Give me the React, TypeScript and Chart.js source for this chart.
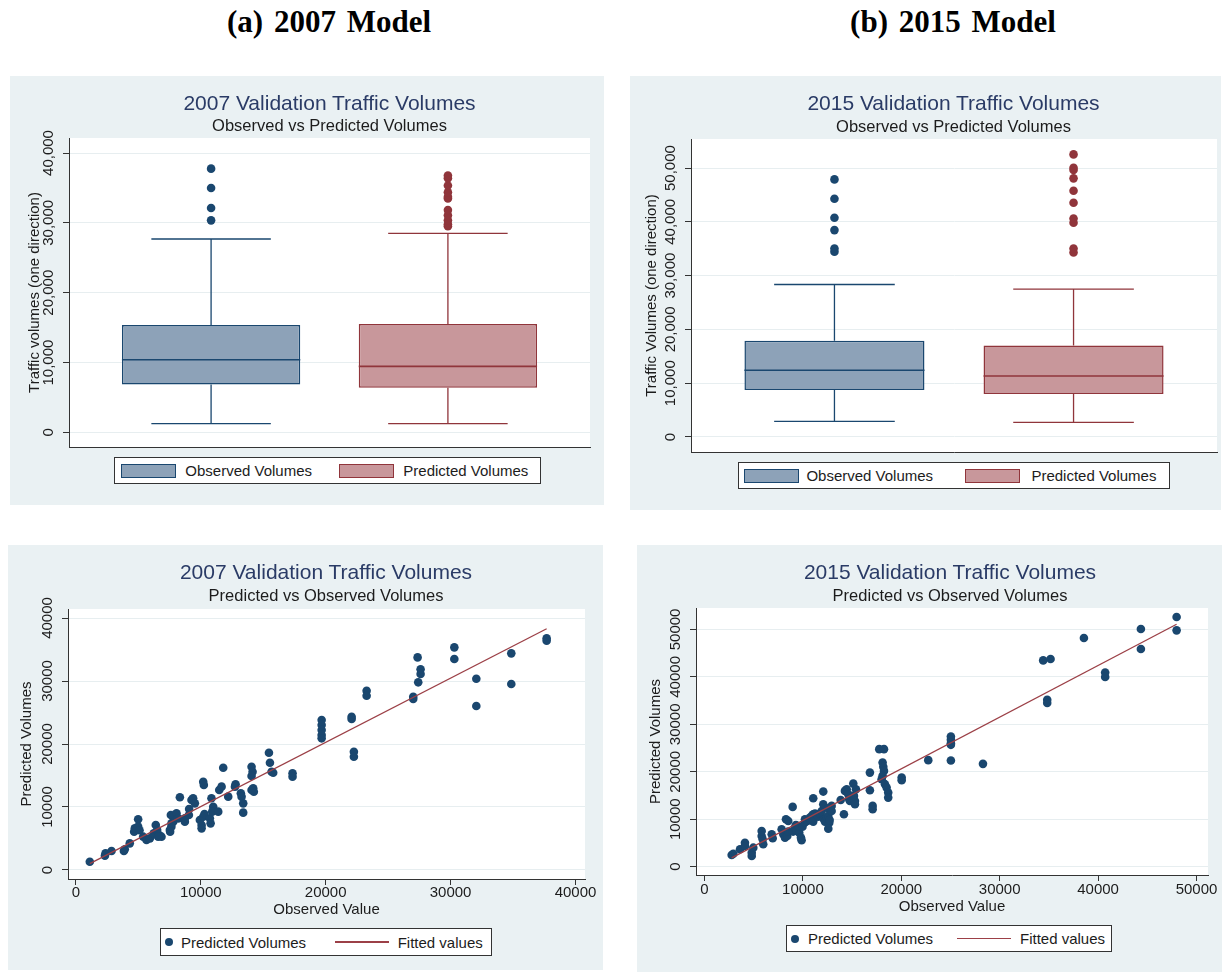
import React, { useEffect, useRef } from "react";
import { Chart, registerables } from "chart.js";

Chart.register(...registerables);

// ---------------- data ----------------
const boxGroups = ["Observed Volumes", "Predicted Volumes"];
const OBS = 0;
const PRED = 1;

// 2007 box plot (observed, predicted)
const box2007Low = [1250, 1250];
const box2007Q1 = [6870, 6400];
const box2007Median = [10400, 9450];
const box2007Q3 = [15370, 15510];
const box2007High = [27690, 28490];
const box2007OutObserved = [30360, 32120, 34990, 37760];
const box2007OutPredicted = [29520, 29790, 30360, 31100, 31850, 33490, 33750, 34390, 35340, 36390, 36770];

// 2015 box plot (observed, predicted)
const box2015Low = [2920, 2730];
const box2015Q1 = [8750, 8000];
const box2015Median = [12410, 11350];
const box2015Q3 = [17870, 17000];
const box2015High = [28350, 27480];
const box2015OutObserved = [34430, 35050, 38460, 40760, 44290, 47890];
const box2015OutPredicted = [34300, 35050, 39830, 40630, 43550, 45780, 48080, 49630, 50060, 52540];

// tick labels
const yTicksBox2007 = [0, 10000, 20000, 30000, 40000];
const yTicksBox2015 = [0, 10000, 20000, 30000, 40000, 50000];
const xTicksScatter2007 = [0, 10000, 20000, 30000, 40000];
const yTicksScatter2007 = [0, 10000, 20000, 30000, 40000];
const xTicksScatter2015 = [0, 10000, 20000, 30000, 40000, 50000];
const yTicksScatter2015 = [0, 10000, 20000, 30000, 40000, 50000];

// 2007 scatter: observed (x) vs predicted (y)
const obs2007 = [
  1120, 2330, 2380, 2860, 3850, 3920, 4320, 4670, 4720, 4990, 4990, 5100, 5390, 5660, 5930, 6240,
  6400, 6510, 6670, 6860, 6590, 7530, 7550, 7650, 7610, 7800, 7660, 8060, 8190, 8330, 8730, 8730,
  9050, 9070, 9260, 9390, 9530, 9930, 10070, 10070, 10200, 10300, 10200, 10250, 10730, 10790, 10860,
  11000, 10920, 11400, 11480, 11670, 11800, 12200, 12790, 12740, 13210, 13270, 13400, 13400, 14070,
  14150, 14070, 14200, 14250, 14070, 15460, 15540, 15670, 15800, 17350, 17350, 19680, 19680, 19680,
  19680, 19680, 22080, 22080, 22260, 22260, 23280, 23280, 27010, 27010, 27360, 27410, 27600, 27600,
  30300, 30300, 32060, 32060, 34860, 34860, 37690, 37690,
];
const pred2007 = [
  1320, 2270, 2650, 3020, 3020, 3280, 4230, 6080, 6600, 8050, 6880, 6300, 5290, 4760, 5020, 5820,
  7140, 6350, 5550, 5290, 5290, 6350, 6080, 6880, 8730, 7660, 7400, 9000, 8200, 11540, 7660, 8200,
  8730, 9680, 11110, 11380, 10580, 7940, 7140, 6610, 8460, 8890, 14010, 13490, 8200, 7400, 11380,
  10050, 9260, 9260, 12700, 13230, 16230, 11640, 13600, 13230, 12170, 11640, 10580, 9100, 16390,
  15600, 14920, 12960, 12430, 12700, 18620, 17030, 15600, 15440, 15340, 14810, 23800, 23010, 22220,
  21420, 20900, 24330, 23960, 18770, 17980, 28450, 27660, 27500, 27140, 33750, 29790, 31850, 31100,
  35340, 33490, 30360, 26030, 34390, 29520, 36770, 36390,
];
const fit2007X = [1120, 37690];
const fit2007Y = [1000, 38300];

// 2015 scatter: observed (x) vs predicted (y)
const obs2015 = [
  2760, 2930, 3610, 4110, 4110, 4800, 4800, 4960, 5810, 5810, 5910, 5970, 6830, 6930, 7840, 8010,
  8180, 8410, 8280, 8510, 8500, 8960, 9000, 9190, 9290, 9370, 9630, 9530, 9870, 9800, 9960, 10200,
  10210, 10450, 10720, 10750, 10890, 11050, 11230, 11050, 11050, 11540, 11730, 11910, 12070, 12140,
  12240, 12420, 12580, 12680, 12720, 12580, 12070, 12580, 12920, 12920, 13840, 14170, 14270, 14450,
  14610, 14710, 14780, 15120, 15190, 15290, 15290, 15390, 16810, 16810, 17090, 17090, 17760, 18240,
  18100, 18170, 18240, 18100, 18000, 18340, 18510, 18670, 18670, 20040, 20040, 22740, 25040, 25040,
  25040, 25040, 25040, 28300, 34420, 35170, 34830, 34830, 38560, 40720, 40720, 44350, 44350, 47980,
  47980,
];
const pred2015 = [
  2470, 2740, 3670, 5060, 4370, 2260, 2950, 4010, 7530, 6480, 5780, 4730, 6840, 5990, 7890, 6840,
  6120, 6480, 10000, 9640, 7380, 12600, 7400, 8230, 8790, 7530, 7170, 8590, 5570, 6120, 8440, 9300,
  10000, 9640, 10340, 9850, 10700, 11060, 11180, 14430, 9500, 10550, 11180, 11750, 13170, 10000,
  9500, 10340, 10700, 9280, 9850, 8020, 15830, 12320, 12810, 11750, 14070, 11060, 15970, 16330,
  15270, 14220, 13860, 17510, 14920, 13860, 13170, 16330, 19830, 16120, 12810, 12110, 24770, 24770,
  21940, 21040, 20190, 19140, 18440, 17390, 16670, 15610, 14560, 18780, 18230, 22450, 27430, 26730,
  26030, 25680, 22370, 21670, 43470, 43760, 35170, 34480, 48190, 40930, 39960, 50090, 45870, 52620,
  49800,
];
const fit2015X = [2760, 47980];
const fit2015Y = [1850, 51100];

const scatterSeries = ["Predicted Volumes", "Fitted values"];

// ---------------- styles ----------------
const SANS = "'Liberation Sans', Arial, Helvetica, sans-serif";
const SERIF = "'Liberation Serif', 'Times New Roman', serif";
const PANEL_BG = "#eaf1f3";
const GRID = "#e7eef0";
const AXIS = "#333333";
const TEXT = "#1c1c1c";
const TITLE = "#2a3b66";
const OBS_LINE = "#1a476f";
const OBS_FILL = "#8da2b8";
const PRED_LINE = "#90353b";
const PRED_FILL = "#c8979b";
const FIT = "#9c4047";

type Box = { left: number; top: number; width: number; height: number };
type Area = { l: number; t: number; r: number; b: number };
type PanelLayout = { canvas: Box; area: Area; xScaleH: number; yTitlePad: number; tickPad: number };

const layoutA: PanelLayout = {
  canvas: { left: 10, top: 76, width: 594, height: 429 },
  area: { l: 59, t: 62, r: 580, b: 371 },
  xScaleH: 0,
  yTitlePad: 15.5,
  tickPad: 0,
};
const layoutB: PanelLayout = {
  canvas: { left: 630, top: 76, width: 591, height: 434 },
  area: { l: 61, t: 63, r: 587, b: 376 },
  xScaleH: 0,
  yTitlePad: 12.4,
  tickPad: 0,
};
const layoutC: PanelLayout = {
  canvas: { left: 8, top: 545, width: 595, height: 425 },
  area: { l: 60, t: 64, r: 577, b: 334 },
  xScaleH: 40,
  yTitlePad: 9.5,
  tickPad: 0,
};
const layoutD: PanelLayout = {
  canvas: { left: 637, top: 545, width: 585, height: 427 },
  area: { l: 59, t: 63, r: 571, b: 330 },
  xScaleH: 41,
  yTitlePad: 9.7,
  tickPad: 1.5,
};

// ---------------- plugins ----------------
function panelBgPlugin() {
  return {
    id: "panelBg",
    beforeDraw(chart: any) {
      const { ctx, width, height, chartArea } = chart;
      ctx.save();
      ctx.fillStyle = PANEL_BG;
      ctx.fillRect(0, 0, width, height);
      ctx.fillStyle = "#ffffff";
      ctx.fillRect(chartArea.left, chartArea.top, chartArea.right - chartArea.left, chartArea.bottom - chartArea.top);
      ctx.restore();
    },
  };
}

function rotatedYTicksPlugin(fmt: (v: number) => string) {
  return {
    id: "rotatedYTicks",
    afterDraw(chart: any) {
      const s = chart.scales.y;
      const ctx = chart.ctx;
      ctx.save();
      ctx.fillStyle = TEXT;
      ctx.font = `15px ${SANS}`;
      ctx.textAlign = "center";
      ctx.textBaseline = "middle";
      for (const t of s.ticks) {
        const y = s.getPixelForValue(t.value);
        ctx.save();
        ctx.translate(chart.chartArea.left - 20, y);
        ctx.rotate(-Math.PI / 2);
        ctx.fillText(fmt(t.value), 0, 0);
        ctx.restore();
      }
      ctx.restore();
    },
  };
}

function whiskerPlugin(low: number[], med: number[], q1: number[], q3: number[], high: number[], colors: string[]) {
  return {
    id: "boxWhiskers",
    afterDatasetsDraw(chart: any) {
      const meta = chart.getDatasetMeta(0);
      const ys = chart.scales.y;
      const ctx = chart.ctx;
      meta.data.forEach((bar: any, i: number) => {
        const { x, width } = bar.getProps(["x", "width"], true);
        const cap = width * 0.335;
        const yLo = ys.getPixelForValue(low[i]);
        const yHi = ys.getPixelForValue(high[i]);
        const yQ1 = ys.getPixelForValue(q1[i]);
        const yQ3 = ys.getPixelForValue(q3[i]);
        const yMed = ys.getPixelForValue(med[i]);
        ctx.save();
        ctx.strokeStyle = colors[i];
        ctx.lineWidth = 1.3;
        ctx.beginPath();
        ctx.moveTo(x, yQ3);
        ctx.lineTo(x, yHi);
        ctx.moveTo(x - cap, yHi);
        ctx.lineTo(x + cap, yHi);
        ctx.moveTo(x, yQ1);
        ctx.lineTo(x, yLo);
        ctx.moveTo(x - cap, yLo);
        ctx.lineTo(x + cap, yLo);
        ctx.stroke();
        ctx.lineWidth = 1.6;
        ctx.beginPath();
        ctx.moveTo(x - width / 2, yMed);
        ctx.lineTo(x + width / 2, yMed);
        ctx.stroke();
        ctx.restore();
      });
    },
  };
}

// ---------------- config builders ----------------
function paddingOf(p: PanelLayout) {
  return {
    left: 0,
    top: p.area.t,
    right: p.canvas.width - p.area.r,
    bottom: p.canvas.height - p.area.b - p.xScaleH,
  };
}

function yScale(p: PanelLayout, min: number, max: number, ticks: number[], title: string) {
  return {
    type: "linear",
    position: "left",
    min,
    max,
    afterBuildTicks: (s: any) => {
      s.ticks = ticks.map((v) => ({ value: v }));
    },
    afterFit: (s: any) => {
      s.width = p.area.l;
    },
    ticks: { display: false },
    grid: {
      display: true,
      drawOnChartArea: true,
      color: GRID,
      lineWidth: 1,
      drawTicks: true,
      tickLength: 6,
      tickColor: AXIS,
      tickWidth: 1,
    },
    border: { display: true, color: AXIS, width: 1 },
    title: {
      display: true,
      text: title,
      color: TEXT,
      font: { family: SANS, size: 15 },
      padding: { top: p.yTitlePad, bottom: 0 },
    },
  };
}

function baseOptions(p: PanelLayout, scales: any) {
  return {
    responsive: false,
    maintainAspectRatio: false,
    animation: false,
    devicePixelRatio: 1,
    events: [],
    layout: { padding: paddingOf(p), autoPadding: false },
    plugins: {
      legend: { display: false },
      title: { display: false },
      tooltip: { enabled: false },
    },
    scales,
  };
}

function boxConfig(
  p: PanelLayout,
  yMin: number,
  yMax: number,
  yTicks: number[],
  yTitle: string,
  low: number[],
  q1: number[],
  med: number[],
  q3: number[],
  high: number[],
  outObs: number[],
  outPred: number[]
) {
  const groupIdx = boxGroups.map((_, i) => i);
  return {
    type: "bar",
    data: {
      datasets: [
        {
          type: "bar",
          label: "boxes",
          data: groupIdx.map((i) => ({ x: i, y: [q1[i], q3[i]] })),
          backgroundColor: [OBS_FILL, PRED_FILL],
          borderColor: [OBS_LINE, PRED_LINE],
          borderWidth: 1.5,
          borderSkipped: false,
          categoryPercentage: 1,
          barPercentage: 0.753,
          order: 2,
        },
        {
          type: "scatter",
          label: boxGroups[OBS],
          data: outObs.map((v) => ({ x: OBS, y: v })),
          backgroundColor: OBS_LINE,
          borderWidth: 0,
          pointRadius: 4.3,
          order: 1,
        },
        {
          type: "scatter",
          label: boxGroups[PRED],
          data: outPred.map((v) => ({ x: PRED, y: v })),
          backgroundColor: PRED_LINE,
          borderWidth: 0,
          pointRadius: 4.3,
          order: 1,
        },
      ],
    },
    options: baseOptions(p, {
      x: {
        type: "linear",
        offset: false,
        min: -0.6,
        max: groupIdx.length - 1 + 0.6,
        afterBuildTicks: (s: any) => {
          s.ticks = groupIdx.map((v) => ({ value: v }));
        },
        afterFit: (s: any) => {
          s.height = p.xScaleH;
        },
        ticks: { display: false },
        grid: { display: false, offset: false },
        border: { display: true, color: AXIS, width: 1 },
      },
      y: yScale(p, yMin, yMax, yTicks, yTitle),
    }),
    plugins: [
      panelBgPlugin(),
      rotatedYTicksPlugin((v) => v.toLocaleString("en-US")),
      whiskerPlugin(low, med, q1, q3, high, [OBS_LINE, PRED_LINE]),
    ],
  };
}

function scatterConfig(
  p: PanelLayout,
  xMin: number,
  xMax: number,
  yMin: number,
  yMax: number,
  xTicks: number[],
  yTicks: number[],
  xs: number[],
  ys: number[],
  fitX: number[],
  fitY: number[]
) {
  return {
    type: "scatter",
    data: {
      datasets: [
        {
          label: scatterSeries[1],
          data: fitX.map((x, i) => ({ x, y: fitY[i] })),
          showLine: true,
          borderColor: FIT,
          borderWidth: 1.3,
          pointRadius: 0,
          fill: false,
          order: 0,
        },
        {
          label: scatterSeries[0],
          data: xs.map((x, i) => ({ x, y: ys[i] })),
          backgroundColor: OBS_LINE,
          borderWidth: 0,
          pointRadius: 4.3,
          order: 1,
        },
      ],
    },
    options: baseOptions(p, {
      x: {
        type: "linear",
        position: "bottom",
        min: xMin,
        max: xMax,
        afterBuildTicks: (s: any) => {
          s.ticks = xTicks.map((v) => ({ value: v }));
        },
        afterFit: (s: any) => {
          s.height = p.xScaleH;
        },
        ticks: {
          display: true,
          autoSkip: false,
          maxRotation: 0,
          minRotation: 0,
          padding: p.tickPad,
          color: TEXT,
          font: { family: SANS, size: 15, lineHeight: 1 },
          callback: (v: any) => String(v),
        },
        grid: {
          display: true,
          drawOnChartArea: false,
          drawTicks: true,
          tickLength: 6,
          tickColor: AXIS,
          tickWidth: 1,
        },
        border: { display: true, color: AXIS, width: 1 },
        title: {
          display: true,
          text: "Observed Value",
          color: TEXT,
          font: { family: SANS, size: 15 },
          padding: { top: 0, bottom: 0 },
        },
      },
      y: yScale(p, yMin, yMax, yTicks, "Predicted Volumes"),
    }),
    plugins: [panelBgPlugin(), rotatedYTicksPlugin((v) => String(v))],
  };
}

// ---------------- components ----------------
function ChartPanel({ layout, make }: { layout: PanelLayout; make: () => any }) {
  const ref = useRef<HTMLCanvasElement>(null);
  useEffect(() => {
    if (!ref.current) return;
    const chart = new Chart(ref.current, make());
    return () => chart.destroy();
  }, []);
  const c = layout.canvas;
  return (
    <canvas
      ref={ref}
      width={c.width}
      height={c.height}
      style={{ position: "absolute", left: c.left, top: c.top, width: c.width, height: c.height }}
    />
  );
}

function Header({ text, cx }: { text: string; cx: number }) {
  return (
    <div
      style={{
        position: "absolute",
        left: cx - 200,
        width: 400,
        top: 6.3,
        height: 31,
        lineHeight: "31px",
        fontSize: 31,
        wordSpacing: 3,
        fontWeight: "bold",
        fontFamily: SERIF,
        textAlign: "center",
        color: "#000",
        whiteSpace: "nowrap",
      }}
    >
      {text}
    </div>
  );
}

function PanelTitle({ cx, y, text, size, color }: { cx: number; y: number; text: string; size: number; color: string }) {
  return (
    <div
      style={{
        position: "absolute",
        left: cx - 300,
        width: 600,
        top: y - 0.488 * size,
        height: size,
        lineHeight: `${size}px`,
        fontSize: size,
        fontFamily: SANS,
        textAlign: "center",
        color,
        whiteSpace: "nowrap",
      }}
    >
      {text}
    </div>
  );
}

function LegendText({ x, h, text }: { x: number; h: number; text: string }) {
  return (
    <div
      style={{
        position: "absolute",
        left: x - 1,
        top: h / 2 - 1 - 0.488 * 15,
        height: 15,
        lineHeight: "15px",
        fontSize: 15,
        fontFamily: SANS,
        color: TEXT,
        whiteSpace: "nowrap",
      }}
    >
      {text}
    </div>
  );
}

function BoxLegend({ box, swatchX, textX }: { box: Box; swatchX: number[]; textX: number[] }) {
  const fills = [OBS_FILL, PRED_FILL];
  const lines = [OBS_LINE, PRED_LINE];
  return (
    <div
      style={{
        position: "absolute",
        left: box.left,
        top: box.top,
        width: box.width,
        height: box.height,
        boxSizing: "border-box",
        border: `1px solid ${AXIS}`,
        background: "#fff",
      }}
    >
      {boxGroups.map((g, i) => (
        <React.Fragment key={g}>
          <div
            style={{
              position: "absolute",
              left: swatchX[i] - 1,
              top: box.height / 2 - 1 - 7,
              width: 55,
              height: 14,
              boxSizing: "border-box",
              background: fills[i],
              border: `1.5px solid ${lines[i]}`,
            }}
          />
          <LegendText x={textX[i]} h={box.height} text={g} />
        </React.Fragment>
      ))}
    </div>
  );
}

function ScatterLegend({
  box,
  dotX,
  text1X,
  lineX,
  text2X,
}: {
  box: Box;
  dotX: number;
  text1X: number;
  lineX: [number, number];
  text2X: number;
}) {
  return (
    <div
      style={{
        position: "absolute",
        left: box.left,
        top: box.top,
        width: box.width,
        height: box.height,
        boxSizing: "border-box",
        border: `1px solid ${AXIS}`,
        background: "#fff",
      }}
    >
      <div
        style={{
          position: "absolute",
          left: dotX - 1 - 4,
          top: box.height / 2 - 1 - 4,
          width: 8,
          height: 8,
          borderRadius: "50%",
          background: OBS_LINE,
        }}
      />
      <LegendText x={text1X} h={box.height} text={scatterSeries[0]} />
      <div
        style={{
          position: "absolute",
          left: lineX[0] - 1,
          top: box.height / 2 - 1 - 0.7,
          width: lineX[1] - lineX[0],
          height: 1.4,
          background: FIT,
        }}
      />
      <LegendText x={text2X} h={box.height} text={scatterSeries[1]} />
    </div>
  );
}

export default function App() {
  return (
    <div
      style={{
        position: "absolute",
        left: 0,
        top: 0,
        width: 1231,
        height: 972,
        background: "#ffffff",
        overflow: "hidden",
      }}
    >
      <ChartPanel
        layout={layoutA}
        make={() =>
          boxConfig(
            layoutA,
            -2090,
            42150,
            yTicksBox2007,
            "Traffic volumes (one direction)",
            box2007Low,
            box2007Q1,
            box2007Median,
            box2007Q3,
            box2007High,
            box2007OutObserved,
            box2007OutPredicted
          )
        }
      />
      <ChartPanel
        layout={layoutB}
        make={() =>
          boxConfig(
            layoutB,
            -2790,
            55400,
            yTicksBox2015,
            "Traffic Volumes (one direction)",
            box2015Low,
            box2015Q1,
            box2015Median,
            box2015Q3,
            box2015High,
            box2015OutObserved,
            box2015OutPredicted
          )
        }
      />
      <ChartPanel
        layout={layoutC}
        make={() =>
          scatterConfig(
            layoutC,
            -625,
            40760,
            -1430,
            41430,
            xTicksScatter2007,
            yTicksScatter2007,
            obs2007,
            pred2007,
            fit2007X,
            fit2007Y
          )
        }
      />
      <ChartPanel
        layout={layoutD}
        make={() =>
          scatterConfig(
            layoutD,
            -864,
            51170,
            -1750,
            54515,
            xTicksScatter2015,
            yTicksScatter2015,
            obs2015,
            pred2015,
            fit2015X,
            fit2015Y
          )
        }
      />

      <Header text="(a) 2007 Model" cx={329} />
      <Header text="(b) 2015 Model" cx={953} />

      <PanelTitle cx={329.5} y={102} size={21} color={TITLE} text="2007 Validation Traffic Volumes" />
      <PanelTitle cx={329.5} y={125.5} size={16.5} color={TEXT} text="Observed vs Predicted Volumes" />
      <PanelTitle cx={953.5} y={101.8} size={21} color={TITLE} text="2015 Validation Traffic Volumes" />
      <PanelTitle cx={953.5} y={126} size={16.5} color={TEXT} text="Observed vs Predicted Volumes" />
      <PanelTitle cx={326} y={571.5} size={21} color={TITLE} text="2007 Validation Traffic Volumes" />
      <PanelTitle cx={326} y={595} size={16.5} color={TEXT} text="Predicted vs Observed Volumes" />
      <PanelTitle cx={950} y={571.5} size={21} color={TITLE} text="2015 Validation Traffic Volumes" />
      <PanelTitle cx={950} y={594.7} size={16.5} color={TEXT} text="Predicted vs Observed Volumes" />

      <BoxLegend box={{ left: 114, top: 457, width: 427, height: 27 }} swatchX={[6.7, 225]} textX={[71.3, 289.3]} />
      <BoxLegend box={{ left: 738, top: 462, width: 432, height: 27 }} swatchX={[6.4, 227.4]} textX={[68.4, 293.4]} />
      <ScatterLegend
        box={{ left: 160, top: 928, width: 332, height: 28 }}
        dotX={8.8}
        text1X={21}
        lineX={[174.5, 228.7]}
        text2X={237.7}
      />
      <ScatterLegend
        box={{ left: 786, top: 925, width: 326, height: 27 }}
        dotX={9.2}
        text1X={22}
        lineX={[171, 225]}
        text2X={234}
      />
    </div>
  );
}
